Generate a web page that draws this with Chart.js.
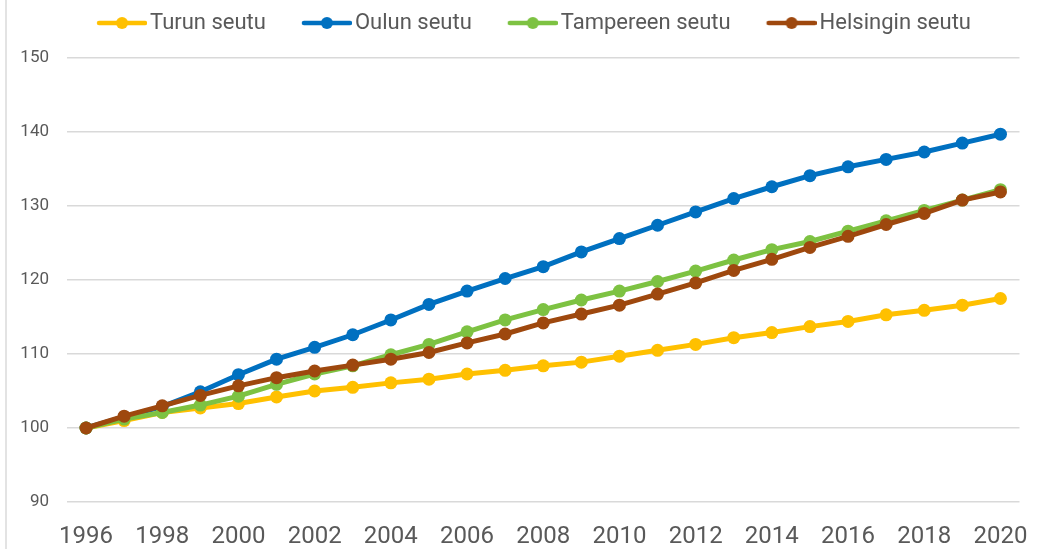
<!DOCTYPE html>
<html>
<head>
<meta charset="utf-8">
<script src="https://cdn.jsdelivr.net/npm/chart.js@4"></script>
<style>
  html, body { margin: 0; padding: 0; background: #fff; }
  #wrap { position: relative; width: 1051px; height: 549px; }
  #edge { position: absolute; left: 5px; top: 0; width: 2px; height: 549px; background: #e3e3e3; }
</style>
</head>
<body>
<div id="wrap">
  <div id="edge"></div>
  <canvas id="kasvu" width="1051" height="549"></canvas>
</div>
<script>
const years = [1996, 1997, 1998, 1999, 2000, 2001, 2002, 2003, 2004, 2005, 2006, 2007,
  2008, 2009, 2010, 2011, 2012, 2013, 2014, 2015, 2016, 2017, 2018, 2019, 2020];

const turku = [100, 101, 102.1, 102.7, 103.3, 104.2, 105, 105.5, 106.1, 106.6, 107.3, 107.8,
  108.4, 108.9, 109.7, 110.5, 111.3, 112.2, 112.9, 113.7, 114.4, 115.3, 115.9, 116.6, 117.5];
const oulu = [100, 101.5, 102.9, 104.9, 107.2, 109.3, 110.9, 112.6, 114.6, 116.7, 118.5, 120.2,
  121.8, 123.8, 125.6, 127.4, 129.2, 131.0, 132.6, 134.1, 135.3, 136.3, 137.3, 138.5, 139.7];
const tampere = [100, 101.2, 102.1, 103.1, 104.3, 105.9, 107.3, 108.4, 109.9, 111.3, 113.0, 114.6,
  116.0, 117.3, 118.5, 119.8, 121.2, 122.7, 124.1, 125.2, 126.6, 128.0, 129.4, 130.8, 132.2];
const helsinki = [100, 101.6, 103.0, 104.4, 105.7, 106.8, 107.7, 108.5, 109.3, 110.2, 111.5, 112.7,
  114.2, 115.4, 116.6, 118.1, 119.6, 121.3, 122.8, 124.4, 125.9, 127.5, 129.0, 130.8, 131.9];

const seriesNames = ["Turun seutu", "Oulun seutu", "Tampereen seutu", "Helsingin seutu"];
const seriesColors = ["#FFC000", "#0070C0", "#7DC242", "#9E480E"];
const seriesValues = [turku, oulu, tampere, helsinki];

const yTicks = [90, 100, 110, 120, 130, 140, 150];

// legend marker: line with a dot, drawn into a small canvas
function legendMarker(color) {
  const c = document.createElement("canvas");
  c.width = 84;
  c.height = 16;
  const g = c.getContext("2d");
  g.strokeStyle = color;
  g.lineWidth = 4.5;
  g.lineCap = "round";
  g.beginPath();
  g.moveTo(36, 8);
  g.lineTo(82, 8);
  g.stroke();
  g.fillStyle = color;
  g.beginPath();
  g.arc(59, 8, 6, 0, Math.PI * 2);
  g.fill();
  return c;
}

const datasets = seriesNames.map((name, i) => ({
  label: name,
  data: seriesValues[i],
  borderColor: seriesColors[i],
  backgroundColor: seriesColors[i],
  borderWidth: 5,
  pointRadius: 6.5,
  pointHoverRadius: 6.5,
  pointBorderWidth: 0,
  tension: 0,
  order: seriesNames.length - i, // later series on top
}));

// push the plot area down a bit below the legend
const legendSpacer = {
  id: "legendSpacer",
  beforeInit(chart) {
    const fit = chart.legend.fit;
    chart.legend.fit = function () {
      fit.bind(chart.legend)();
      this.height += 14;
    };
  },
};

new Chart(document.getElementById("kasvu").getContext("2d"), {
  type: "line",
  data: { labels: years, datasets: datasets },
  plugins: [legendSpacer],
  options: {
    responsive: false,
    animation: false,
    events: [],
    layout: { padding: { left: 20, right: 29, top: 2, bottom: 0 } },
    plugins: {
      tooltip: { enabled: false },
      legend: {
        position: "top",
        labels: {
          usePointStyle: true,
          pointStyleWidth: 68,
          padding: 10,
          color: "#595959",
          font: { family: "Roboto", size: 22 },
          generateLabels: (chart) =>
            chart.data.datasets.map((ds, i) => ({
              text: ds.label,
              pointStyle: legendMarker(ds.borderColor),
              fillStyle: ds.borderColor,
              strokeStyle: ds.borderColor,
              lineWidth: 0,
              fontColor: "#595959",
              datasetIndex: i,
              hidden: false,
            })),
        },
      },
    },
    scales: {
      x: {
        type: "category",
        offset: true,
        grid: { display: false, drawTicks: false },
        border: { display: false },
        afterFit: (axis) => {
          axis.height = 47;
        },
        ticks: {
          autoSkip: false,
          maxRotation: 0,
          padding: 23,
          color: "#595959",
          font: { family: "Roboto", size: 24, lineHeight: 1 },
          callback: function (v, i) {
            return i % 2 === 0 ? this.getLabelForValue(v) : "";
          },
        },
      },
      y: {
        min: 90,
        max: 150,
        afterBuildTicks: (axis) => {
          axis.ticks = yTicks.map((v) => ({ value: v }));
        },
        afterFit: (axis) => {
          axis.width = 47;
        },
        grid: { color: "#d9d9d9", lineWidth: 1.5, drawTicks: false },
        border: { display: false },
        ticks: {
          padding: 18,
          color: "#595959",
          font: { family: "Roboto", size: 17 },
        },
      },
    },
  },
});
</script>
</body>
</html>
